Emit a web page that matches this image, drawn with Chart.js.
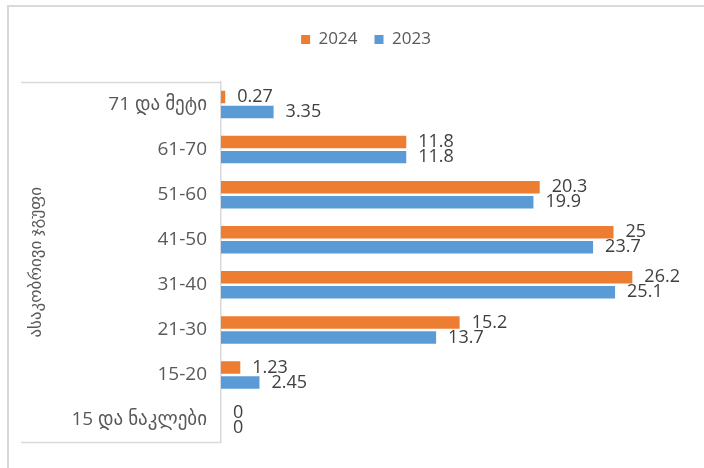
<!DOCTYPE html>
<html>
<head>
<meta charset="utf-8">
<script src="https://cdn.jsdelivr.net/npm/chart.js@4/dist/chart.umd.min.js"></script>
<style>
  html, body { margin: 0; padding: 0; background: #ffffff; }
  #wrap { width: 704px; height: 468px; position: relative; }
</style>
</head>
<body>
<div id="wrap"><canvas id="c" width="704" height="468"></canvas></div>
<script>
// Age groups, top to bottom
const categories = ['71 და მეტი', '61-70', '51-60', '41-50', '31-40', '21-30', '15-20', '15 და ნაკლები'];
const seriesNames = ['2024', '2023'];
const values2024 = [0.27, 11.8, 20.3, 25, 26.2, 15.2, 1.23, 0];
const values2023 = [3.35, 11.8, 19.9, 23.7, 25.1, 13.7, 2.45, 0];
const axisTitle = 'ასაკობრივი ჯგუფი';

const FONT = "'Open Sans', 'DejaVu Sans', sans-serif";
const TEXT = '#595959';
const LINE = '#d9d9d9';

// Extra space between the legend and the plot
const legendGap = {
  id: 'legendGap',
  beforeLayout(chart) {
    const lg = chart.legend;
    if (lg && !lg._gapPatched) {
      const fit = lg.fit;
      lg.fit = function () { fit.call(this); this.height += 24; };
      lg._gapPatched = true;
    }
  }
};

// Outer frame and the box around the category labels
const frames = {
  id: 'frames',
  beforeDraw(chart) {
    const { ctx, chartArea } = chart;
    ctx.save();
    ctx.strokeStyle = LINE;
    ctx.lineWidth = 2;
    ctx.beginPath();
    ctx.moveTo(8, 468); ctx.lineTo(8, 6); ctx.lineTo(704, 6);
    ctx.stroke();
    ctx.lineWidth = 1.5;
    ctx.beginPath();
    ctx.moveTo(21, Math.round(chartArea.top) + 0.5);
    ctx.lineTo(chartArea.left, Math.round(chartArea.top) + 0.5);
    ctx.moveTo(21, Math.round(chartArea.bottom) - 0.5);
    ctx.lineTo(chartArea.left, Math.round(chartArea.bottom) - 0.5);
    ctx.stroke();
    ctx.restore();
  }
};

// Value labels at the end of each bar
const valueLabels = {
  id: 'valueLabels',
  afterDatasetsDraw(chart) {
    const { ctx } = chart;
    ctx.save();
    ctx.font = '18px ' + FONT;
    ctx.fillStyle = '#404040';
    ctx.textAlign = 'left';
    ctx.textBaseline = 'middle';
    chart.data.datasets.forEach((ds, di) => {
      const meta = chart.getDatasetMeta(di);
      meta.data.forEach((bar, i) => {
        ctx.fillText(String(ds.data[i]), bar.x + 12, bar.y);
      });
    });
    ctx.restore();
  }
};

new Chart(document.getElementById('c'), {
  type: 'bar',
  data: {
    labels: categories,
    datasets: [
      { label: seriesNames[0], data: values2024, backgroundColor: '#ED7D31' },
      { label: seriesNames[1], data: values2023, backgroundColor: '#5B9BD5' }
    ]
  },
  options: {
    indexAxis: 'y',
    responsive: false,
    animation: false,
    devicePixelRatio: 1,
    categoryPercentage: 0.667,
    barPercentage: 0.83,
    layout: { padding: { left: 40, right: 12, top: 14, bottom: 23 } },
    plugins: {
      legend: {
        position: 'top',
        align: 'center',
        labels: {
          boxWidth: 9, boxHeight: 9, padding: 17,
          color: TEXT,
          font: { family: FONT, size: 17 }
        }
      },
      tooltip: { enabled: false }
    },
    scales: {
      x: { display: false, min: 0, max: 30 },
      y: {
        grid: { display: false, drawTicks: false },
        border: { display: true, color: LINE, width: 1.5 },
        ticks: { color: TEXT, padding: 14, font: { family: FONT, size: 19 } },
        title: {
          display: true, text: axisTitle, color: TEXT,
          padding: { top: -14, bottom: 0 },
          font: { family: FONT, size: 17 }
        },
        afterFit(scale) { scale.width = 181; }
      }
    }
  },
  plugins: [legendGap, frames, valueLabels]
});
</script>
</body>
</html>
